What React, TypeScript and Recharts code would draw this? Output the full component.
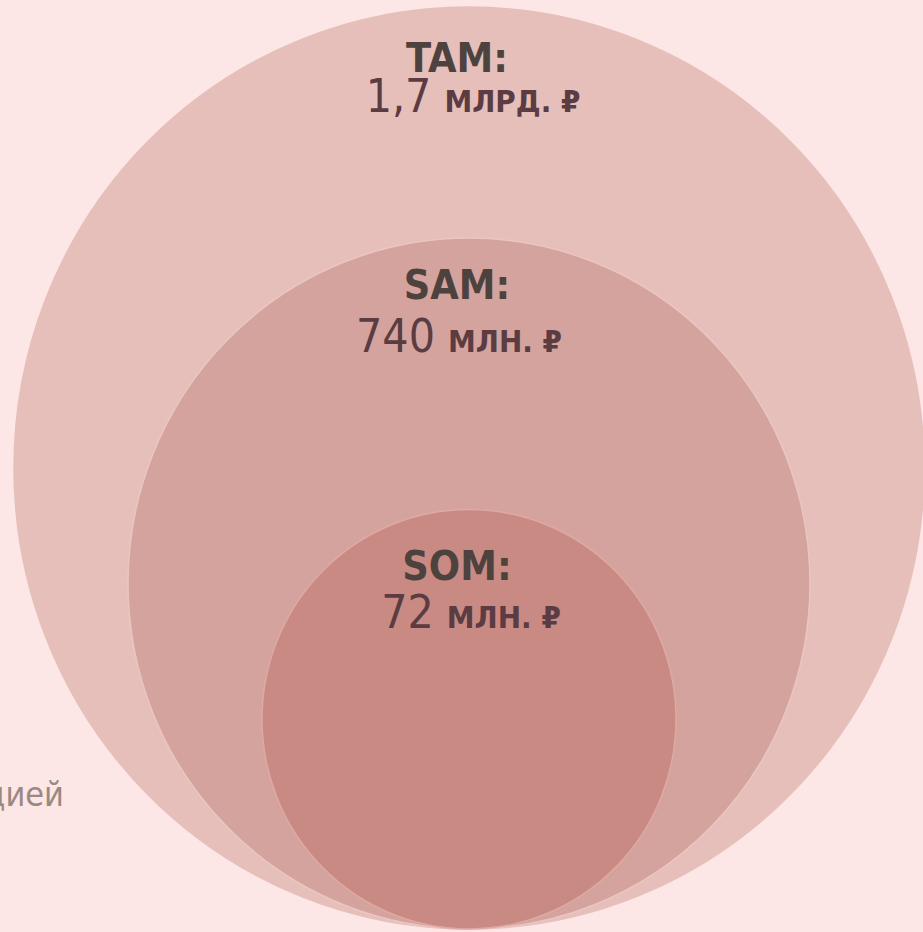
import { Scatter, ScatterChart, XAxis, YAxis, ZAxis } from "recharts";

// market sizing: TAM / SAM / SOM, drawn as nested bubbles resting on one baseline
const names = ["TAM:", "SAM:", "SOM:"];
const amounts = ["1,7", "740", "72"];
const units = ["МЛРД. ₽", "МЛН. ₽", "МЛН. ₽"];
const radii = [455, 341, 207];

const data = names.map((name, i) => ({
  name,
  amount: amounts[i],
  unit: units[i],
  x: 0,
  y: radii[i],
  r: radii[i],
}));

const W = 923;
const H = 932;
const Y_DOMAIN: [number, number] = [-3, 917];
const ASPECT = H / (Y_DOMAIN[1] - Y_DOMAIN[0]);

const fills = ["#e6bfba", "#d5a39d", "#c98a84"];
const strokes = ["#e6bfba", "#ebc6c1", "#dfa9a3"];
// distance from the bubble's top edge to the title / value baselines, and value shift
const labelOffsets = [
  [65, 105, 4],
  [61, 114, -10],
  [70, 118, 2],
];
const FONT = "'DejaVu Sans Condensed', 'Liberation Sans Narrow', sans-serif";

const Bubble = (props: any) => {
  const { cx, cy, size, payload } = props;
  const i = names.indexOf(payload.name);
  const rx = size;
  const ry = size * ASPECT;
  const top = cy - ry;
  const [t, v, dx] = labelOffsets[i];
  return (
    <g>
      <ellipse cx={cx} cy={cy} rx={rx} ry={ry} fill={fills[i]} stroke={strokes[i]} strokeWidth={1.5} />
      <text
        x={cx - 12}
        y={top + t}
        textAnchor="middle"
        fontFamily={FONT}
        fontSize={41}
        fontWeight={600}
        fill="#4d423e"
      >
        {payload.name}
      </text>
      <text x={cx + dx} y={top + v} textAnchor="middle" fontFamily={FONT} fill="#5a3c42">
        <tspan fontSize={46}>{payload.amount}</tspan>
        <tspan fontSize={31} fontWeight={600} dx={13}>
          {payload.unit}
        </tspan>
      </text>
    </g>
  );
};

export default function App() {
  return (
    <div
      style={{
        position: "absolute",
        left: 0,
        top: 0,
        width: W,
        height: H,
        overflow: "hidden",
        background: "#fce7e6",
      }}
    >
      <div
        style={{
          position: "absolute",
          right: W - 64,
          top: 774,
          whiteSpace: "nowrap",
          fontFamily: "'DejaVu Sans Condensed', sans-serif",
          fontSize: 34,
          color: "#9a8981",
        }}
      >
        дией
      </div>
      <ScatterChart width={W} height={H} margin={{ top: 0, right: 0, bottom: 0, left: 0 }}>
        <XAxis type="number" dataKey="x" domain={[-469, 454]} hide />
        <YAxis type="number" dataKey="y" domain={Y_DOMAIN} hide />
        <ZAxis type="number" dataKey="r" domain={[0, 500]} range={[0, 500]} />
        <Scatter data={data} shape={Bubble} isAnimationActive={false} />
      </ScatterChart>
    </div>
  );
}
